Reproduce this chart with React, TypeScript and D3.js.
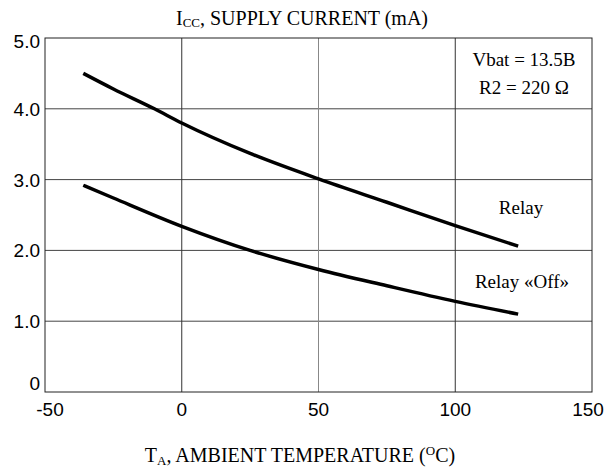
import React from 'react';
import * as d3 from 'd3';

// temperature (°C) and supply current (mA)
const relayTemp = [-36, -25, -10, 0, 25, 50, 75, 100, 123];
const relayCurrent = [4.5, 4.28, 4.0, 3.8, 3.37, 3.01, 2.68, 2.35, 2.06];
const offTemp = [-36, -25, 0, 25, 50, 75, 100, 123];
const offCurrent = [2.92, 2.74, 2.34, 2.0, 1.73, 1.5, 1.28, 1.1];

const xTicks = [-50, 0, 50, 100, 150];
const yTicks = [0, 1, 2, 3, 4, 5];

const width = 607;
const height = 476;
const margin = { left: 45, right: 15, top: 38, bottom: 84 };

const App = () => {
  const x = d3.scaleLinear().domain([-50, 150]).range([margin.left, width - margin.right]);
  const y = d3.scaleLinear().domain([0, 5]).range([height - margin.bottom, margin.top]);

  const line = d3.line<[number, number]>()
    .x(d => x(d[0]))
    .y(d => y(d[1]))
    .curve(d3.curveMonotoneX);

  const relay = relayTemp.map((t, i) => [t, relayCurrent[i]] as [number, number]);
  const off = offTemp.map((t, i) => [t, offCurrent[i]] as [number, number]);

  const serif = '"Liberation Serif", "Times New Roman", serif';
  const sans = '"Liberation Sans", Arial, sans-serif';

  // small nudges so the end labels stay inside the picture like the original
  const xShift = (t: number) => (t === -50 ? 5 : t === 150 ? -4 : 0);
  const yShift = (t: number) => (t === 5 ? 10 : t === 0 ? -2 : 7);

  return (
    <svg width={width} height={height} style={{ position: 'absolute', left: 0, top: 0, background: '#fff' }}>
      {/* grid */}
      {yTicks.slice(1, -1).map(t => (
        <line key={'h' + t} x1={x(-50)} x2={x(150)} y1={y(t)} y2={y(t)} stroke="#444" strokeWidth={1} />
      ))}
      {xTicks.slice(1, -1).map(t => (
        <line key={'v' + t} x1={x(t)} x2={x(t)} y1={y(0)} y2={y(5)} stroke={t === 50 ? '#888' : '#333'} strokeWidth={1} />
      ))}
      <rect x={x(-50)} y={y(5)} width={x(150) - x(-50)} height={y(0) - y(5)} fill="none" stroke="#222" strokeWidth={1} />

      {/* curves */}
      <path d={line(relay) || ''} fill="none" stroke="#000" strokeWidth={3.5} />
      <path d={line(off) || ''} fill="none" stroke="#000" strokeWidth={3.5} />

      {/* tick labels */}
      {yTicks.map(t => (
        <text key={'yl' + t} x={x(-50) - 5} y={y(t) + yShift(t)} textAnchor="end" fontFamily={sans} fontSize={19} fill="#000">
          {t === 0 ? '0' : t.toFixed(1)}
        </text>
      ))}
      {xTicks.map(t => (
        <text key={'xl' + t} x={x(t) + xShift(t)} y={y(0) + 24} textAnchor="middle" fontFamily={sans} fontSize={19} fill="#000">
          {t}
        </text>
      ))}

      {/* titles */}
      <text x={302} y={25} textAnchor="middle" fontFamily={serif} fontSize={20} fill="#000">
        I<tspan fontSize={13} dy={2}>CC</tspan><tspan dy={-2}>, SUPPLY CURRENT (mA)</tspan>
      </text>
      <text x={300} y={462} textAnchor="middle" fontFamily={serif} fontSize={20} fill="#000">
        T<tspan fontSize={13} dy={3}>A</tspan><tspan dy={-3}>, AMBIENT TEMPERATURE (</tspan><tspan fontSize={13} dy={-7}>O</tspan><tspan dy={7}>C)</tspan>
      </text>

      {/* annotations */}
      <text x={524} y={66} textAnchor="middle" fontFamily={serif} fontSize={19} fill="#000">Vbat = 13.5B</text>
      <text x={524} y={94} textAnchor="middle" fontFamily={serif} fontSize={19} fill="#000">R2 = 220 Ω</text>
      <text x={521} y={214} textAnchor="middle" fontFamily={serif} fontSize={19} fill="#000">Relay</text>
      <text x={522} y={288} textAnchor="middle" fontFamily={serif} fontSize={19} fill="#000">Relay «Off»</text>
    </svg>
  );
};

export default App;
